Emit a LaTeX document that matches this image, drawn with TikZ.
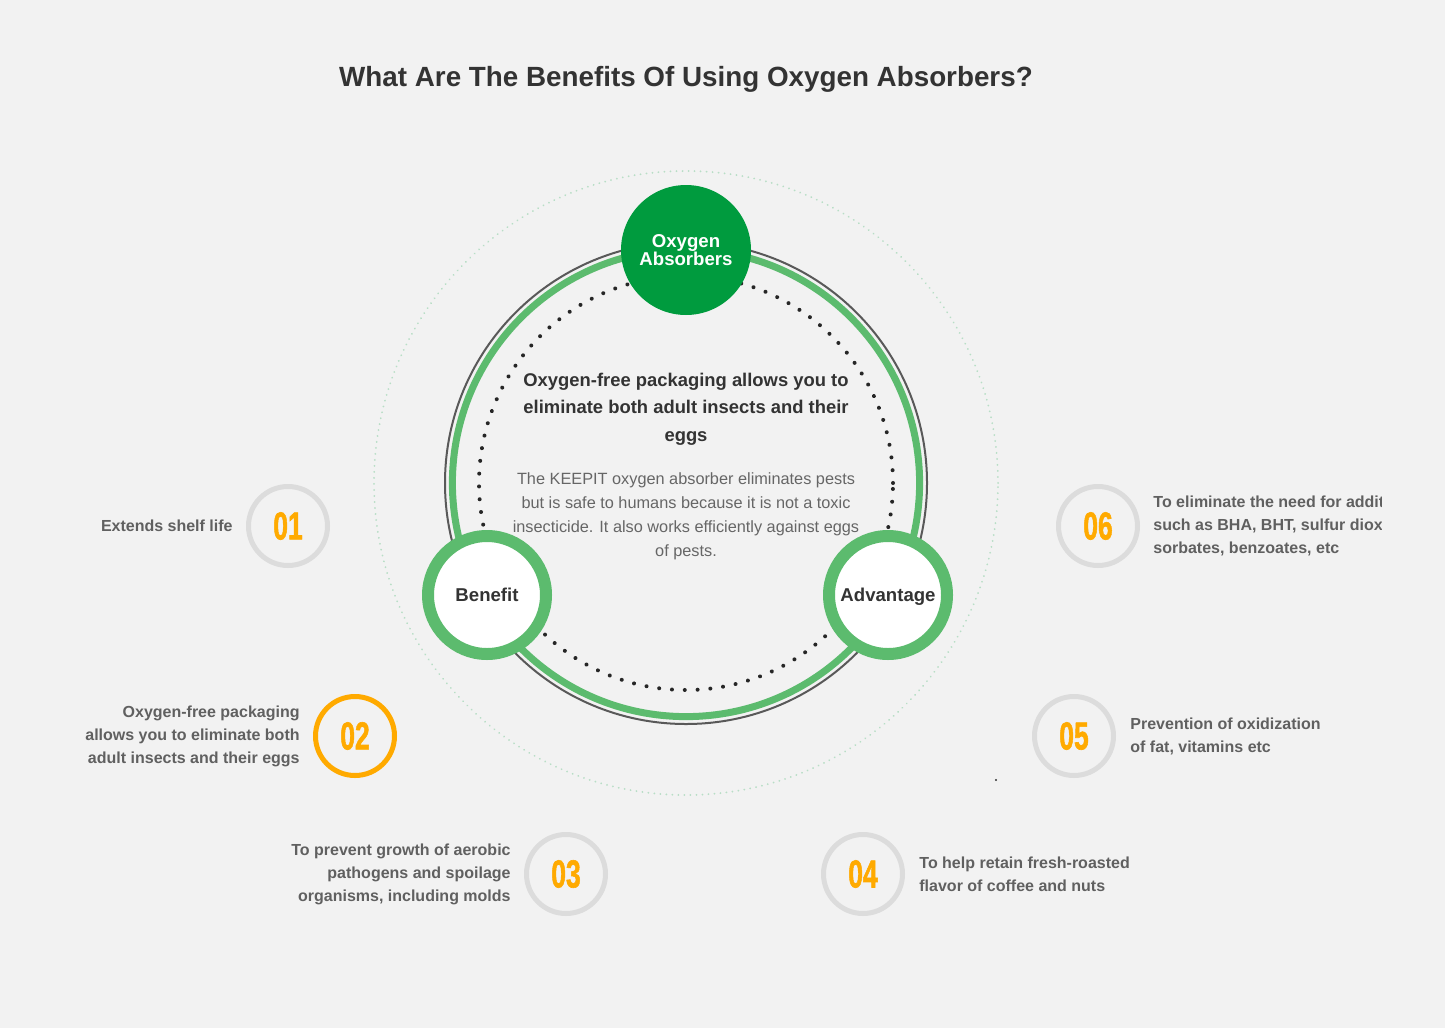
\documentclass[tikz,border=0pt]{standalone}
\usepackage{fontspec}
\setmainfont{Liberation Sans}
\newfontfamily\digitfont[FakeBold=1.6]{Liberation Sans Bold}
\usepackage{graphicx}
\definecolor{bg}{HTML}{F2F2F2}
\definecolor{titlecol}{HTML}{333333}
\definecolor{labelcol}{HTML}{606060}
\definecolor{bodycol}{HTML}{666666}
\definecolor{darkgreen}{HTML}{009B3E}
\definecolor{ringgreen}{HTML}{5CBB6E}
\definecolor{palegreen}{HTML}{B8DEC6}
\definecolor{ringgray}{HTML}{DCDCDC}
\definecolor{orangeA}{HTML}{FFAA00}
\newcommand{\digits}[1]{\scalebox{0.68}[1]{#1}}
\begin{document}
\begin{tikzpicture}[x=0.5pt,y=-0.5pt,
  numring/.style={circle, draw=ringgray, line width=2.5pt, minimum size=39.5pt, inner sep=0pt,
    font=\digitfont\fontsize{19.5}{20}\selectfont, text=orangeA},
  lbl/.style={font=\bfseries\fontsize{8}{11.5}\selectfont, text=labelcol, inner sep=0pt},
  lblL/.style={lbl, anchor=east, align=right},
  lblR/.style={lbl, anchor=west, align=left},
  hubring/.style={circle, draw=ringgreen, fill=white, line width=6pt, minimum size=59pt, inner sep=0pt,
    text depth=0pt, font=\bfseries\fontsize{9.3}{10}\selectfont, text=titlecol}]
\useasboundingbox (0,0) rectangle (1445,1028);
\fill[bg] (0,0) rectangle (1445,1028);

\coordinate (c) at (686,483);
% outer pale dotted circle
\draw[palegreen, line width=1pt, dash pattern=on 0.01pt off 3pt, line cap=round] (c) circle[radius=156pt];
% thin gray circle
\draw[black!65, line width=1pt] (c) circle[radius=120.5pt];
% green ring
\draw[ringgreen, line width=3.5pt] (c) circle[radius=116.8pt];
% black dotted circle
\draw[black!85, line width=2pt, dash pattern=on 0.01pt off 6.4pt, line cap=round] (c) circle[radius=103.5pt];

% title
\node[font=\bfseries\fontsize{13.9}{16}\selectfont, text=titlecol] (title) at (686,79) {What Are The Benefits Of Using Oxygen Absorbers?};

% central texts
\node[font=\bfseries\fontsize{9.2}{13.75}\selectfont, text=titlecol, align=center] (head) at (686,409)
  {Oxygen-free packaging allows you to\\eliminate both adult insects and their\\eggs};
\node[font=\fontsize{8.15}{12}\selectfont, text=bodycol, align=center] (body) at (686,516)
  {The KEEPIT oxygen absorber eliminates pests\\but is safe to humans because it is not a toxic\\insecticide. It also works efficiently against eggs\\of pests.};

% hub circles
\node[circle, fill=darkgreen, minimum size=65pt, inner sep=0pt, text=white,
  font=\bfseries\fontsize{9.3}{9}\selectfont, align=center] (oxy) at (686,250) {Oxygen\\Absorbers};
\node[hubring] (benefit) at (487,595) {Benefit};
\node[hubring] (adv) at (888,595) {Advantage};

% numbered circles
\node[numring] (n1) at (288,526) {\digits{01}};
\node[numring, draw=orangeA] (n2) at (355,736) {\digits{02}};
\node[numring] (n3) at (566,874) {\digits{03}};
\node[numring] (n4) at (863,874) {\digits{04}};
\node[numring] (n5) at (1074,736) {\digits{05}};
\node[numring] (n6) at (1098,526) {\digits{06}};

% labels
\node[lblL] (l1) at (233,526) {Extends shelf life};
\node[lblL] (l2) at (300,736) {Oxygen-free packaging\\allows you to eliminate both\\adult insects and their eggs};
\node[lblL] (l3) at (511,874) {To prevent growth of aerobic\\pathogens and spoilage\\organisms, including molds};
\node[lblR] (l4) at (919,874) {To help retain fresh-roasted\\flavor of coffee and nuts};
\node[lblR] (l5) at (1130,736) {Prevention of oxidization\\of fat, vitamins etc};
\begin{scope}
\clip (1140,470) rectangle (1381,580);
\node[lblR] (l6) at (1153,526) {To eliminate the need for additives\\such as BHA, BHT, sulfur dioxide,\\sorbates, benzoates, etc};
\end{scope}

% stray dot
\fill[black!80] (996,780) circle[radius=0.6pt];
\end{tikzpicture}
\end{document}
